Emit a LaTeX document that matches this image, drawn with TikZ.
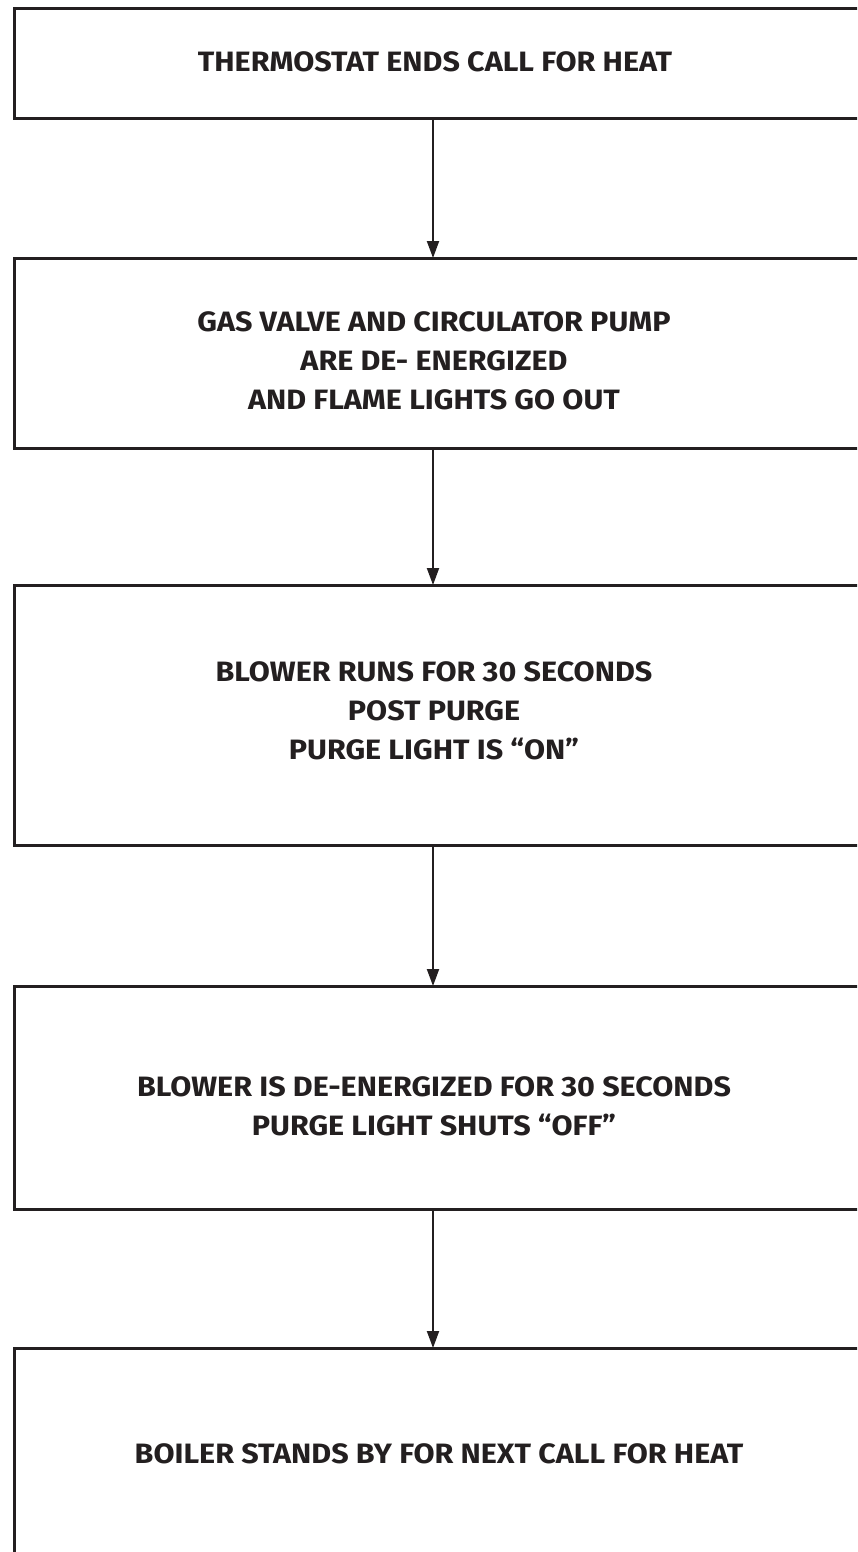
\documentclass[tikz,border=0pt]{standalone}
\usepackage{fontspec}
\setmainfont{Fira Sans}[FakeStretch=1.09]
\usetikzlibrary{arrows.meta}
\definecolor{ink}{HTML}{231F20}
\tikzset{
  stepbox/.style={draw=ink, line width=3pt, inner sep=0pt, anchor=north west},
  steptext/.style={text=ink, inner sep=0pt, align=center, font=\fontsize{28pt}{39pt}\selectfont\bfseries},
  flow/.style={draw=ink, line width=2pt, -{Triangle[length=17pt,width=12pt]}, shorten >=-1pt}
}
\begin{document}
\begin{tikzpicture}[x=1pt,y=-1pt]
\useasboundingbox (0,0) rectangle (857,1552);
\clip (0,0) rectangle (857,1552);
\node[stepbox, minimum width=870pt, minimum height=110pt] (b1) at (13,7) {};
\node[stepbox, minimum width=870pt, minimum height=190pt] (b2) at (13,257) {};
\node[stepbox, minimum width=870pt, minimum height=260pt] (b3) at (13,584) {};
\node[stepbox, minimum width=870pt, minimum height=223pt] (b4) at (13,985) {};
\node[stepbox, minimum width=870pt, minimum height=240pt] (b5) at (13,1347) {};
\node[steptext] (t1) at (435,62) {THERMOSTAT ENDS CALL FOR HEAT};
\node[steptext] (t2) at (434,361) {GAS VALVE AND CIRCULATOR PUMP\\ARE DE- ENERGIZED\\AND FLAME LIGHTS GO OUT};
\node[steptext] (t3) at (434,711) {BLOWER RUNS FOR 30 SECONDS\\POST PURGE\\PURGE LIGHT IS “ON”};
\node[steptext] (t4) at (434,1106) {BLOWER IS DE-ENERGIZED FOR 30 SECONDS\\PURGE LIGHT SHUTS “OFF”};
\node[steptext] (t5) at (439,1454) {BOILER STANDS BY FOR NEXT CALL FOR HEAT};
\coordinate (ax) at (433,0);
\draw[flow] (b1.south -| ax) -- (b2.north -| ax);
\draw[flow] (b2.south -| ax) -- (b3.north -| ax);
\draw[flow] (b3.south -| ax) -- (b4.north -| ax);
\draw[flow] (b4.south -| ax) -- (b5.north -| ax);
\end{tikzpicture}
\end{document}
